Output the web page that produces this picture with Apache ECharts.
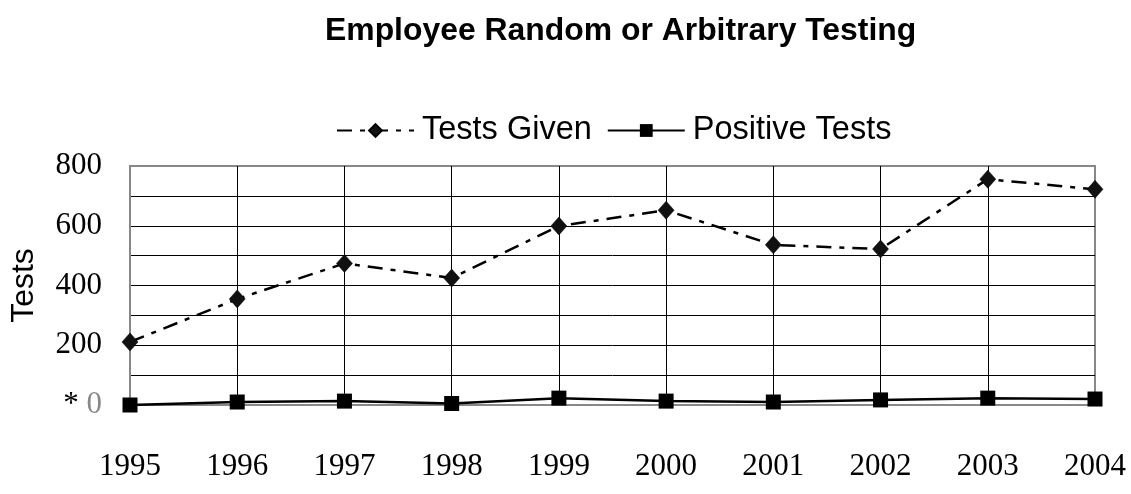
<!DOCTYPE html>
<html>
<head>
<meta charset="utf-8">
<script src="https://cdn.jsdelivr.net/npm/echarts@6/dist/echarts.min.js"></script>
<style>html,body{margin:0;padding:0;background:#fff;}#c{width:1131px;height:494px;}</style>
</head>
<body>
<div id="c"></div>
<script>
var years = ['1995','1996','1997','1998','1999','2000','2001','2002','2003','2004'];
var testsGiven = [211, 355, 474, 425, 599, 652, 536, 522, 756, 722];
var positiveTests = [0, 10, 13, 5, 23, 13, 10, 17, 23, 20];

var chart = echarts.init(document.getElementById('c'));
var serif = 'Liberation Serif';
var sans = 'Liberation Sans';
chart.setOption({
  backgroundColor: '#fff',
  animation: false,
  title: {
    text: 'Employee Random or Arbitrary Testing',
    left: 320,
    top: 10,
    textStyle: { fontFamily: sans, fontSize: 31.9, fontWeight: 'bold', color: '#000' }
  },
  legend: {
    left: 331,
    top: 109,
    itemWidth: 77,
    itemHeight: 16,
    itemGap: 15,
    textStyle: { fontFamily: sans, fontSize: 32.5, color: '#000', padding: [0, 0, 0, 3] },
    data: ['Tests Given', 'Positive Tests']
  },
  grid: {
    left: 126, right: 36, top: 166, bottom: 89,
    show: true, borderColor: '#888', borderWidth: 2, backgroundColor: 'transparent'
  },
  xAxis: {
    type: 'category',
    data: years,
    boundaryGap: false,
    axisLine: { show: true, lineStyle: { color: '#888', width: 2 } },
    axisTick: { show: false },
    axisLabel: { fontFamily: serif, fontSize: 31, color: '#000', margin: 46 },
    splitLine: { show: true, lineStyle: { color: ['#888','#000','#000','#000','#000','#000','#000','#000','#000','#888'], width: 1 } }
  },
  yAxis: {
    type: 'value',
    min: 0, max: 800, interval: 100,
    name: 'Tests',
    nameLocation: 'middle',
    nameGap: 90,
    nameTextStyle: { fontFamily: sans, fontSize: 32, color: '#000' },
    axisLine: { show: true, lineStyle: { color: '#888', width: 2 } },
    axisTick: { show: false },
    axisLabel: {
      fontFamily: serif, fontSize: 31, color: '#000', margin: 28,
      formatter: function (v) {
        if (v === 0) return '{s|*} {g|0}';
        if (v % 200 === 0) return String(v);
        return '';
      },
      rich: {
        s: { fontFamily: serif, fontSize: 31, color: '#000' },
        g: { fontFamily: serif, fontSize: 31, color: '#888' }
      }
    },
    splitLine: { show: true, lineStyle: { color: ['#888','#000','#000','#000','#000','#000','#000','#000','#888'], width: 1 } }
  },
  series: [
    {
      name: 'Tests Given',
      type: 'line',
      data: testsGiven,
      symbol: 'diamond',
      symbolSize: [16, 18],
      itemStyle: { color: '#111', borderColor: '#000', borderWidth: 0.5 },
      lineStyle: { color: '#000', width: 2.5, type: [15, 8, 5, 8] },
      z: 3
    },
    {
      name: 'Positive Tests',
      type: 'line',
      data: positiveTests,
      symbol: 'rect',
      symbolSize: 15,
      itemStyle: { color: '#000' },
      lineStyle: { color: '#000', width: 2.5, type: 'solid' },
      z: 4
    }
  ]
});
</script>
</body>
</html>
